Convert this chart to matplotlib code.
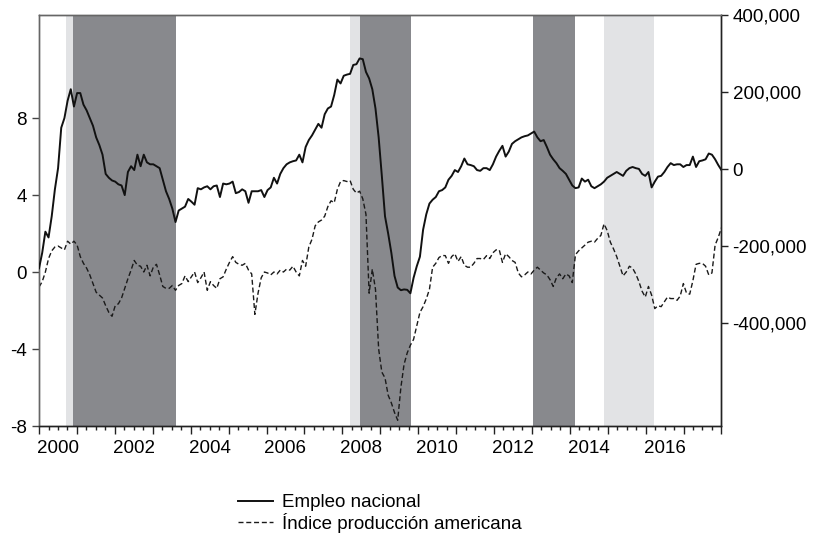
import numpy as np
import matplotlib
matplotlib.use("Agg")
import matplotlib.pyplot as plt
from matplotlib.lines import Line2D

plt.rcParams['font.family'] = ['Liberation Sans', 'DejaVu Sans']

# Monthly observations, Jan 2000 - Dec 2017
start_year = 2000
end_year = 2018

# Empleo nacional (right axis, persons, in thousands as read)
empleo_miles = [
    -257, -217, -162, -177, -122, -52, 3, 108, 133, 178, 208, 163,
    198, 198, 168, 153, 133, 113, 83, 63, 38, -12, -22, -29,
    -32, -39, -42, -67, -7, 8, -2, 38, 8, 38, 18, 13,
    13, 8, 3, -27, -57, -77, -102, -137, -107, -102, -97, -77,
    -84, -92, -49, -52, -47, -44, -52, -44, -42, -72, -37, -39,
    -37, -32, -62, -59, -52, -57, -87, -57, -57, -57, -54, -72,
    -54, -47, -22, -37, -12, 3, 13, 18, 21, 23, 38, 18,
    58, 76, 88, 103, 118, 108, 143, 158, 163, 193, 233, 223,
    243, 246, 248, 271, 273, 288, 286, 253, 236, 208, 158, 83,
    -17, -122, -167, -217, -277, -307, -314, -312, -313, -322, -282, -252,
    -227, -157, -117, -89, -79, -72, -57, -54, -47, -27, -17, -2,
    -7, 8, 28, 13, 11, 8, -2, -4, 3, 3, -2, 13,
    33, 48, 61, 33, 46, 66, 73, 78, 83, 86, 88, 93,
    98, 83, 73, 76, 58, 38, 26, 16, 3, -4, -12, -27,
    -42, -49, -47, -24, -32, -27, -44, -49, -44, -39, -32, -22,
    -17, -12, -7, -12, -17, -4, 3, 6, 3, 1, -12, -17,
    -7, -47, -32, -19, -17, -7, 6, 16, 11, 13, 13, 6,
    11, 11, 33, 6, 21, 23, 26, 41, 38, 26, 11, -2,
]

# Indice produccion americana (left axis, %)
produccion = [
    -0.78, -0.5, 0.0, 0.7, 1.1, 1.3, 1.35, 1.25, 1.15, 1.6, 1.45, 1.6,
    1.4, 0.8, 0.45, 0.2, -0.15, -0.6, -1.05, -1.2, -1.35, -1.75, -2.1, -2.3,
    -1.75, -1.65, -1.35, -0.85, -0.35, 0.1, 0.6, 0.35, 0.3, 0.0, 0.35, -0.2,
    0.25, 0.4, -0.15, -0.75, -0.85, -0.85, -0.7, -0.95, -0.7, -0.6, -0.2, -0.5,
    -0.25, 0.0, -0.55, -0.3, 0.0, -0.95, -0.5, -0.7, -0.85, -0.35, -0.25, 0.15,
    0.5, 0.8, 0.5, 0.4, 0.35, 0.45, 0.1, -0.1, -2.2, -1.1, -0.3, 0.0,
    -0.05, -0.15, 0.0, -0.1, 0.1, 0.0, 0.15, 0.1, 0.3, 0.0, -0.2, 0.6,
    0.3, 1.3, 1.7, 2.4, 2.6, 2.7, 2.9, 3.4, 3.7, 3.6, 4.3, 4.7,
    4.75, 4.7, 4.75, 4.3, 4.1, 4.2, 3.8, 3.0, -1.1, 0.15, -0.9, -4.0,
    -5.2, -5.5, -6.4, -6.8, -7.3, -7.7, -6.0, -4.8, -4.2, -3.8, -3.5, -2.8,
    -2.1, -1.8, -1.4, -0.9, 0.25, 0.45, 0.75, 0.86, 0.85, 0.45, 0.8, 0.95,
    0.55, 0.8, 0.35, 0.25, 0.25, 0.45, 0.7, 0.7, 0.65, 0.85, 0.7, 1.0,
    1.15, 1.15, 0.5, 0.95, 0.8, 0.6, 0.5, -0.05, -0.25, -0.15, 0.0, -0.1,
    0.1, 0.25, 0.1, -0.05, -0.15, -0.4, -0.75, -0.3, -0.1, -0.35, -0.1, -0.2,
    -0.55, 0.9, 1.1, 1.25, 1.4, 1.55, 1.6, 1.55, 1.75, 1.9, 2.5, 2.15,
    1.55, 1.2, 0.8, 0.3, -0.2, 0.0, 0.3, 0.2, -0.1, -0.5, -1.0, -1.3,
    -0.75, -1.2, -1.9, -1.75, -1.8, -1.55, -1.3, -1.38, -1.38, -1.47, -1.25, -0.6,
    -1.1, -1.15, -0.45, 0.4, 0.45, 0.45, 0.3, -0.15, -0.05, 1.4, 1.8, 2.3,
]

# Shaded periods (decimal years)
light_periods = [(2000.71, 2000.89), (2008.20, 2008.47), (2014.89, 2016.22)]
dark_periods = [(2000.89, 2003.62), (2008.47, 2009.80), (2013.04, 2014.13)]

left_ticks = [-8, -4, 0, 4, 8]
right_ticks = [400000, 200000, 0, -200000, -400000]
right_tick_labels = ["400,000", "200,000", "0", "-200,000", "-400,000"]
year_labels = [2000, 2002, 2004, 2006, 2008, 2010, 2012, 2014, 2016]

labels = ["Empleo nacional", "Índice producción americana"]

FS = 13.5

n = len(produccion)
x = np.linspace(start_year, end_year, n)
empleo = np.array(empleo_miles) * 1000

fig = plt.figure(figsize=(8.13, 5.34), dpi=100)
ax = fig.add_axes([0.048, 0.2022, 0.8394, 0.7697])
ax2 = ax.twinx()

for a, b in light_periods:
    ax.axvspan(a, b, color='#e2e3e5', lw=0, zorder=0)
for a, b in dark_periods:
    ax.axvspan(a, b, color='#88898d', lw=0, zorder=0)

ax.plot(x, produccion, color='#1a1a1a', lw=1.0, dashes=(3.6, 2.0), zorder=3)
ax2.plot(x, empleo, color='#111111', lw=1.4, zorder=3)

ax.set_xlim(start_year, end_year)
ax.set_ylim(-8, 13.35)
ax2.set_ylim(-666750, 400750)

ax.set_yticks(left_ticks)
ax.set_yticklabels([str(t) for t in left_ticks])
ax2.set_yticks(right_ticks)
ax2.set_yticklabels(right_tick_labels)

ax.set_xticks(np.arange(start_year, end_year + 1, 1))
ax.set_xticklabels([])
ax.set_xticks(np.arange(start_year, end_year, 0.25), minor=True)
ax.tick_params(axis='x', which='major', length=6, width=1, direction='out', color='#222')
ax.tick_params(axis='x', which='minor', length=3.2, width=1, direction='out', color='#222')
ax.tick_params(axis='y', length=5, width=1, direction='out', labelsize=FS, pad=4, color='#444')
ax2.tick_params(axis='y', length=5, width=1, direction='out', labelsize=FS, pad=3, color='#222')

secx = ax.secondary_xaxis('bottom')
secx.set_xticks([y + 0.5 for y in year_labels])
secx.set_xticklabels([str(y) for y in year_labels])
secx.tick_params(length=0, labelsize=FS, pad=10)
for s in secx.spines.values():
    s.set_visible(False)

for side in ['top', 'left']:
    ax.spines[side].set_color('#666666')
    ax2.spines[side].set_color('#666666')
for side in ['bottom', 'right']:
    ax.spines[side].set_color('#222222')
    ax2.spines[side].set_color('#222222')
for a in (ax, ax2):
    for s in a.spines.values():
        s.set_linewidth(1.0)

handles = [
    Line2D([0], [0], color='#111111', lw=1.4),
    Line2D([0], [0], color='#1a1a1a', lw=1.0, dashes=(3.6, 2.0)),
]
fig.legend(handles, labels, loc='upper left', bbox_to_anchor=(0.2927, 0.075),
           frameon=False, fontsize=FS, handlelength=1.87, handletextpad=0.48,
           labelspacing=0.1, borderaxespad=0, borderpad=0)

fig.savefig('out.png', dpi=100)
